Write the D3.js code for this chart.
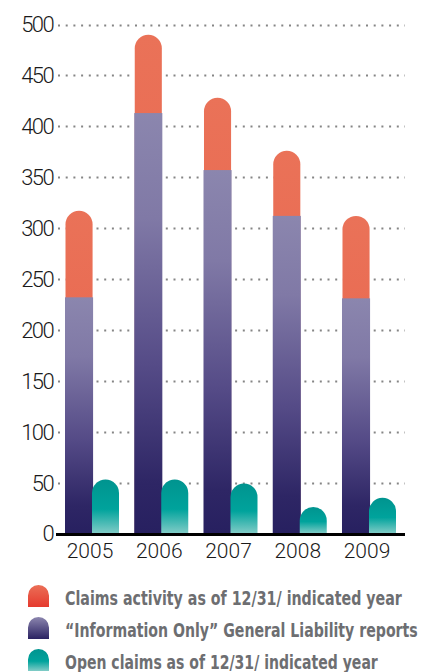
<!DOCTYPE html>
<html>
<head>
<meta charset="utf-8">
<script src="https://cdn.jsdelivr.net/npm/d3@7"></script>
<style>
  body { margin: 0; background: #fff; }
  #chart svg { display: block; }
</style>
</head>
<body>
<div id="chart"></div>
<script>
const years = ["2005", "2006", "2007", "2008", "2009"];
const claimsActivity = [317, 490, 428, 376, 312];
const infoOnly = [232, 413, 357, 312, 231];
const openClaims = [53, 53, 49, 26, 35];
const yTicks = [0, 50, 100, 150, 200, 250, 300, 350, 400, 450, 500];
const legendLabels = [
    "Claims activity as of 12/31/ indicated year",
    "\u201cInformation Only\u201d General Liability reports",
    "Open claims as of 12/31/ indicated year"
];

const width = 422, height = 672;

const svg = d3.select("#chart")
    .append("svg")
    .attr("width", width)
    .attr("height", height);

const defs = svg.append("defs");

function grad(id, stops) {
    const g = defs.append("linearGradient")
        .attr("id", id)
        .attr("x1", 0).attr("y1", 0)
        .attr("x2", 0).attr("y2", 1);
    stops.forEach(s => g.append("stop").attr("offset", s[0]).attr("stop-color", s[1]));
}

grad("gOrange", [[0, "#ea7258"], [1, "#e8604a"]]);
grad("gPurple", [[0, "#8b86ae"], [0.25, "#8079a6"], [0.6, "#554b87"], [0.88, "#2e2665"], [1, "#272060"]]);
grad("gTeal", [[0, "#00948f"], [0.55, "#00a39c"], [1, "#82ccc7"]]);
grad("gOrangeLeg", [[0, "#eb6f57"], [1, "#e53a2e"]]);
grad("gPurpleLeg", [[0, "#8c86af"], [1, "#2a2262"]]);
grad("gTealLeg", [[0, "#00948f"], [0.55, "#00a39c"], [1, "#82ccc7"]]);

const y = d3.scaleLinear().domain([0, 500]).range([533.5, 24.5]);
const x = d3.scaleBand().domain(years).range([65, 396]).paddingInner(0.22);
const bw = x.bandwidth();

// dotted gridlines
svg.append("g")
    .selectAll("line")
    .data(yTicks.filter(d => d > 0))
    .enter().append("line")
    .attr("x1", 58)
    .attr("x2", 405)
    .attr("y1", d => Math.round(y(d)) + 0.5)
    .attr("y2", d => Math.round(y(d)) + 0.5)
    .attr("stroke", "#858585")
    .attr("stroke-width", 2)
    .attr("stroke-dasharray", "2,5.7");

// y labels
svg.append("g")
    .selectAll("text")
    .data(yTicks)
    .enter().append("text")
    .attr("x", 53)
    .attr("y", d => y(d))
    .attr("dy", "0.36em")
    .attr("text-anchor", "end")
    .attr("font-family", "Roboto")
    .attr("font-weight", 300)
    .attr("font-size", 22)
    .attr("letter-spacing", -1.6)
    .attr("fill", "#1a1a1a")
    .text(d => d);

// rounded-top bar path
function capBar(x0, w, top, bottom) {
    const r = w / 2;
    const h = bottom - top;
    if (h < r) return `M${x0},${bottom}V${top}H${x0 + w}V${bottom}Z`;
    return `M${x0},${bottom}V${top + r}A${r},${r} 0 0 1 ${x0 + w},${top + r}V${bottom}Z`;
}

const pw = bw * 0.52, tw = bw * 0.5, ow = pw - 1;

const groups = svg.append("g")
    .selectAll("g")
    .data(years)
    .enter().append("g");

groups.append("path")
    .attr("d", (d, i) => capBar(x(d) + (pw - ow) / 2, ow, y(claimsActivity[i]), y(0)))
    .attr("fill", "url(#gOrange)");

groups.append("rect")
    .attr("x", d => x(d))
    .attr("width", pw)
    .attr("y", (d, i) => y(infoOnly[i]))
    .attr("height", (d, i) => y(0) - y(infoOnly[i]))
    .attr("fill", "url(#gPurple)");

groups.append("path")
    .attr("d", (d, i) => capBar(x(d) + bw - tw, tw, y(openClaims[i]), y(0)))
    .attr("fill", "url(#gTeal)");

// x axis line
svg.append("line")
    .attr("x1", 56).attr("x2", 405)
    .attr("y1", 534.5).attr("y2", 534.5)
    .attr("stroke", "#000")
    .attr("stroke-width", 3);

// x labels
svg.append("g")
    .selectAll("text")
    .data(years)
    .enter().append("text")
    .attr("x", d => x(d) + bw / 2 - 2)
    .attr("y", 558)
    .attr("text-anchor", "middle")
    .attr("font-family", "Roboto")
    .attr("font-weight", 300)
    .attr("font-size", 21)
    .attr("fill", "#1a1a1a")
    .text(d => d);

// legend
const legendFills = ["url(#gOrangeLeg)", "url(#gPurpleLeg)", "url(#gTealLeg)"];
const legendWidths = [337, 353, 313];

const legend = svg.append("g")
    .selectAll("g")
    .data(legendLabels)
    .enter().append("g")
    .attr("transform", (d, i) => `translate(0,${585 + i * 32})`);

legend.append("path")
    .attr("d", capBar(28, 21, 0, 22))
    .attr("fill", (d, i) => legendFills[i]);

// condensed look: squeeze each label horizontally to the reference width
legend.append("text")
    .attr("x", 0)
    .attr("y", 0)
    .attr("font-family", "'Liberation Sans Narrow', 'DejaVu Sans Condensed', sans-serif")
    .attr("font-weight", "bold")
    .attr("font-size", 19)
    .attr("fill", "#6d6e71")
    .text(d => d)
    .attr("transform", function(d, i) {
        const w = this.getComputedTextLength();
        return `translate(65,20) scale(${legendWidths[i] / w},1)`;
    });
</script>
</body>
</html>
